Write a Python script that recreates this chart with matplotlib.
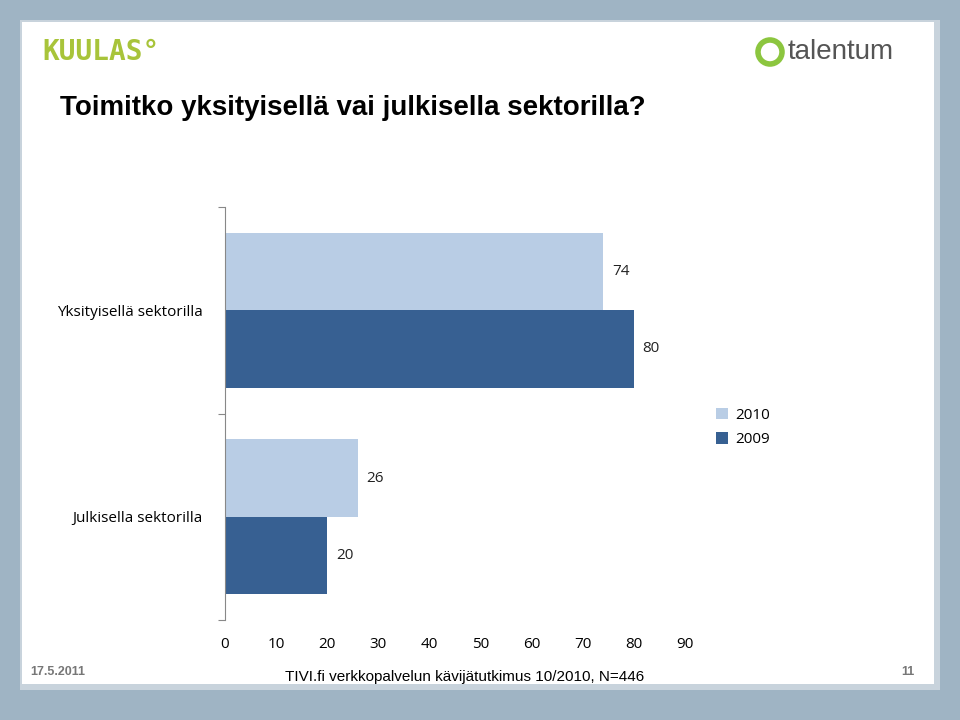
import matplotlib
matplotlib.use("Agg")
import matplotlib.pyplot as plt
from matplotlib.patches import Rectangle, Circle

categories = ["Julkisella sektorilla", "Yksityisellä sektorilla"]
v2010 = [26, 74]
v2009 = [20, 80]
xticks = [0, 10, 20, 30, 40, 50, 60, 70, 80, 90]

fig = plt.figure(figsize=(9.6, 7.2), dpi=100)
fig.patch.set_facecolor("#9fb4c4")
bg = fig.add_axes([0, 0, 1, 1], zorder=-10)
bg.set_xlim(0, 960); bg.set_ylim(720, 0); bg.axis("off")
bg.add_patch(Rectangle((20, 20), 920, 670, facecolor="#c8d3dc", edgecolor="none"))
bg.add_patch(Rectangle((22, 22), 912, 662, facecolor="white", edgecolor="none"))
bg.add_patch(Circle((770, 52), 12, facecolor="white", edgecolor="#8cc63f", linewidth=4))

ax = fig.add_axes([225/960, 1-620/720, 460/960, 413/720])
h = 0.375
ypos = [0, 1]
light, dark = "#b9cde5", "#376092"
ax.barh([y + h/2 for y in ypos], v2010, height=h, color=light, label="2010")
ax.barh([y - h/2 for y in ypos], v2009, height=h, color=dark, label="2009")
for y, a, b in zip(ypos, v2010, v2009):
    ax.text(a + 1.7, y + h/2, str(a), va="center", ha="left", fontsize=11, color="#222", family="Open Sans")
    ax.text(b + 1.7, y - h/2, str(b), va="center", ha="left", fontsize=11, color="#222", family="Open Sans")
ax.set_xlim(0, 90)
ax.set_ylim(-0.5, 1.5)
ax.set_xticks(xticks)
ax.set_xticklabels([str(t) for t in xticks], fontsize=11, family="Open Sans")
ax.set_yticks([-0.5, 0.5, 1.5], minor=False)
ax.set_yticklabels([])
ax.set_yticks(ypos, minor=True)
ax.set_yticklabels(categories, minor=True, fontsize=11, family="Open Sans")
ax.tick_params(axis="y", which="minor", length=0, pad=16)
ax.tick_params(axis="y", which="major", length=5, color="#888")
ax.tick_params(axis="x", length=0, pad=12)
for s in ["top", "right"]:
    ax.spines[s].set_visible(False)
ax.spines["left"].set_color("#888")
ax.spines["bottom"].set_visible(False)
ax.patch.set_alpha(0)
fig.legend(loc="upper left", bbox_to_anchor=(702/960, 1-394/720), frameon=False,
           prop={"family": "Open Sans", "size": 11}, handlelength=0.8, handleheight=0.8,
           labelspacing=0.6, handletextpad=0.5)

fig.text(60/960, 1-108/720, "Toimitko yksityisellä vai julkisella sektorilla?", fontsize=20,
         fontweight="bold", family="Liberation Sans", va="center")
fig.text(42/960, 1-52/720, "KUULAS°", fontsize=20, color="#a8c43a", family="DejaVu Sans Mono",
         va="center", fontweight="bold")
fig.text(788/960, 1-52/720, "talentum", fontsize=20, color="#555", family="Liberation Sans", va="center")
fig.text(30/960, 1-672/720, "17.5.2011", fontsize=9, color="#777", fontweight="bold",
         family="Liberation Sans", va="center")
fig.text(465/960, 1-677/720, "TIVI.fi verkkopalvelun kävijätutkimus 10/2010, N=446", fontsize=11,
         family="Liberation Sans", va="center", ha="center")
fig.text(915/960, 1-672/720, "11", fontsize=9, color="#777", fontweight="bold",
         family="Liberation Sans", va="center", ha="right")
fig.savefig("out.png", dpi=100, facecolor=fig.get_facecolor())
